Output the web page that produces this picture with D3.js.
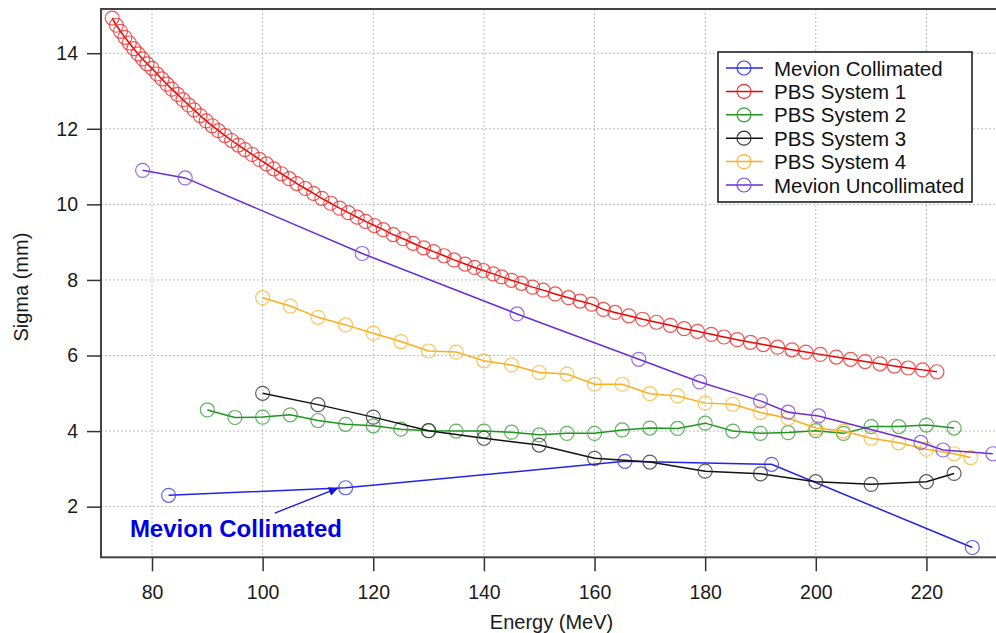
<!DOCTYPE html>
<html>
<head>
<meta charset="utf-8">
<script src="https://cdn.jsdelivr.net/npm/d3@7"></script>
<style>
  body { margin: 0; background: #fff; }
  text { font-family: "Liberation Sans", Arial, sans-serif; }
</style>
</head>
<body>
<script>
// data (Energy in MeV, Sigma in mm)
const colE = [83, 115, 165.5, 192, 228.3];
const colS = [2.3, 2.5, 3.2, 3.12, 0.92];

const pbs1E = [72.8, 73.55, 74.3, 75.1, 75.9, 76.7, 77.5, 78.3, 79.1, 80.0,
  80.9, 81.8, 82.7, 83.6, 84.6, 85.6, 86.6, 87.6, 88.7, 89.8,
  90.9, 92.0, 93.2, 94.4, 95.6, 96.8, 98.1, 99.4, 100.7, 102.0,
  103.4, 104.8, 106.2, 107.7, 109.2, 110.7, 112.3, 113.9, 115.5, 117.1,
  118.6, 120.2, 121.8, 123.6, 125.4, 127.2, 129.1, 130.9, 132.8, 134.6,
  136.6, 138.3, 139.9, 141.7, 143.2, 145.0, 146.8, 148.8, 150.7, 152.9,
  155.3, 157.4, 159.5, 161.6, 163.7, 166.2, 168.7, 171.2, 173.7, 176.2,
  178.6, 181.1, 183.4, 185.8, 188.2, 190.5, 193.1, 195.7, 198.2, 200.8,
  203.7, 206.3, 208.9, 211.6, 214.2, 216.7, 219.3, 221.9];
const pbs1S = [14.93, 14.74, 14.58, 14.42, 14.27, 14.12, 13.98, 13.85, 13.72, 13.6,
  13.45, 13.32, 13.18, 13.05, 12.91, 12.77, 12.63, 12.5, 12.35, 12.21,
  12.08, 11.95, 11.82, 11.69, 11.57, 11.45, 11.32, 11.19, 11.07, 10.94,
  10.81, 10.68, 10.55, 10.42, 10.29, 10.16, 10.03, 9.9, 9.78, 9.66,
  9.55, 9.44, 9.33, 9.2, 9.09, 8.97, 8.85, 8.75, 8.64, 8.53,
  8.42, 8.33, 8.25, 8.16, 8.08, 7.99, 7.91, 7.81, 7.73, 7.63,
  7.53, 7.44, 7.36, 7.22, 7.14, 7.05, 6.96, 6.88, 6.8, 6.71,
  6.64, 6.56, 6.49, 6.42, 6.35, 6.29, 6.22, 6.15, 6.09, 6.03,
  5.96, 5.9, 5.84, 5.78, 5.72, 5.67, 5.62, 5.57];

const pbs2E = [90, 95, 100, 105, 110, 115, 120, 125, 130, 135, 140, 145, 150, 155,
  160, 165, 170, 175, 180, 185, 190, 195, 200, 205, 210, 215, 220, 225];
const pbs2S = [4.56, 4.36, 4.37, 4.43, 4.28, 4.18, 4.14, 4.05, 4.01, 4.0, 4.0, 3.97, 3.9, 3.94,
  3.94, 4.03, 4.08, 4.07, 4.21, 4.0, 3.94, 3.96, 4.01, 3.94, 4.12, 4.12, 4.16, 4.08];

const pbs3E = [100, 110, 120, 130, 140, 150, 160, 170, 180, 190, 200, 210, 220, 225];
const pbs3S = [5.0, 4.7, 4.37, 4.01, 3.81, 3.63, 3.28, 3.18, 2.94, 2.87, 2.66, 2.59, 2.66, 2.88];

const pbs4E = [100, 105, 110, 115, 120, 125, 130, 135, 140, 145, 150, 155, 160, 165,
  170, 175, 180, 185, 190, 195, 200, 205, 210, 215, 220, 225, 228];
const pbs4S = [7.53, 7.31, 7.01, 6.81, 6.59, 6.37, 6.12, 6.09, 5.86, 5.75, 5.55, 5.51, 5.24, 5.24,
  4.99, 4.93, 4.74, 4.71, 4.49, 4.34, 4.08, 4.0, 3.81, 3.69, 3.52, 3.4, 3.3];

const uncolE = [78.3, 86, 118, 146, 168, 179, 190, 195, 200.5, 219, 223, 232];
const uncolS = [10.9, 10.7, 8.7, 7.1, 5.9, 5.3, 4.8, 4.5, 4.4, 3.7, 3.5, 3.4];

const xTicks = [80, 100, 120, 140, 160, 180, 200, 220];
const yTicks = [2, 4, 6, 8, 10, 12, 14];

const series = [
  { name: "Mevion Collimated", e: colE, s: colS, line: "#2323e8", mark: "#3a3aee" },
  { name: "PBS System 1", e: pbs1E, s: pbs1S, line: "#f00000", mark: "#ee2a2a" },
  { name: "PBS System 2", e: pbs2E, s: pbs2S, line: "#1e961e", mark: "#3a9f3a" },
  { name: "PBS System 3", e: pbs3E, s: pbs3S, line: "#111111", mark: "#333333" },
  { name: "PBS System 4", e: pbs4E, s: pbs4S, line: "#fcaf1c", mark: "#fbb734" },
  { name: "Mevion Uncollimated", e: uncolE, s: uncolS, line: "#6a2fd4", mark: "#7d47dc" }
];

//const
const dims = { width: 996, height: 633 };
const plot = { left: 101, right: 1000, top: 9, bottom: 557.3 };

const svg = d3.select("body").append("svg")
    .attr("width", dims.width)
    .attr("height", dims.height);

const x = d3.scaleLinear().domain([70.78, 233.3]).range([plot.left, plot.right]);
const y = d3.scaleLinear().domain([0.66, 15.17]).range([plot.bottom, plot.top]);

// grid
const grid = svg.append("g")
    .attr("stroke", "#bdbdbd")
    .attr("stroke-width", 1)
    .attr("stroke-dasharray", "2,2");
grid.selectAll(".gx").data(xTicks).enter().append("line")
    .attr("x1", d => x(d)).attr("x2", d => x(d))
    .attr("y1", plot.top).attr("y2", plot.bottom);
grid.selectAll(".gy").data(yTicks).enter().append("line")
    .attr("x1", plot.left).attr("x2", plot.right)
    .attr("y1", d => y(d)).attr("y2", d => y(d));

// frame
svg.append("rect")
    .attr("x", plot.left).attr("y", plot.top)
    .attr("width", plot.right - plot.left).attr("height", plot.bottom - plot.top)
    .attr("fill", "none")
    .attr("stroke", "#444")
    .attr("stroke-width", 2);

// axes
const xAxis = svg.append("g")
    .attr("transform", `translate(0,${plot.bottom})`)
    .call(d3.axisBottom(x).tickValues(xTicks).tickSize(14).tickPadding(14).tickSizeOuter(0));
const yAxis = svg.append("g")
    .attr("transform", `translate(${plot.left},0)`)
    .call(d3.axisLeft(y).tickValues(yTicks).tickSize(14).tickPadding(9).tickSizeOuter(0));
[xAxis, yAxis].forEach(a => {
  a.select(".domain").remove();
  a.selectAll(".tick line").attr("stroke", "#333").attr("stroke-width", 1.5);
  a.selectAll(".tick text")
      .attr("fill", "#1a1a1a")
      .style("font-size", "19.5px")
      .style("font-family", "'Liberation Sans', Arial, sans-serif");
});

// axis titles
svg.append("text")
    .attr("x", (plot.left + 996) / 2 + 3)
    .attr("y", 629)
    .attr("text-anchor", "middle")
    .attr("fill", "#1a1a1a")
    .style("font-size", "20px")
    .text("Energy (MeV)");
svg.append("text")
    .attr("transform", `translate(28,${(plot.top + plot.bottom) / 2 + 4}) rotate(-90)`)
    .attr("text-anchor", "middle")
    .attr("fill", "#1a1a1a")
    .style("font-size", "20px")
    .text("Sigma (mm)");

// series
const line = d3.line().x(d => x(d[0])).y(d => y(d[1]));
const body = svg.append("g");
series.forEach(ser => {
  const pts = ser.e.map((e, i) => [e, ser.s[i]]);
  const g = body.append("g");
  g.append("path")
      .datum(pts)
      .attr("d", line)
      .attr("fill", "none")
      .attr("stroke", ser.line)
      .attr("stroke-width", 1.5);
  g.selectAll("circle").data(pts).enter().append("circle")
      .attr("cx", d => x(d[0]))
      .attr("cy", d => y(d[1]))
      .attr("r", 7)
      .attr("fill", "none")
      .attr("stroke", ser.mark)
      .attr("stroke-opacity", 0.8)
      .attr("stroke-width", 1.2);
});

// annotation
svg.append("defs").append("marker")
    .attr("id", "ah")
    .attr("viewBox", "0 0 10 10")
    .attr("refX", 10).attr("refY", 5)
    .attr("markerWidth", 12).attr("markerHeight", 9)
    .attr("markerUnits", "userSpaceOnUse")
    .attr("orient", "auto")
  .append("path")
    .attr("d", "M0,0 L10,5 L0,10 z")
    .attr("fill", "#1414e6");
svg.append("line")
    .attr("x1", x(102.2)).attr("y1", y(1.83))
    .attr("x2", x(113.6)).attr("y2", y(2.49))
    .attr("stroke", "#1414e6")
    .attr("stroke-width", 1.3)
    .attr("marker-end", "url(#ah)");
svg.append("text")
    .attr("x", x(76.0))
    .attr("y", y(1.21))
    .attr("fill", "#0000e6")
    .style("font-size", "24px")
    .style("font-weight", "bold")
    .text("Mevion Collimated");

// legend
const legend = svg.append("g").attr("transform", "translate(718,52)");
legend.append("rect")
    .attr("width", 254).attr("height", 150)
    .attr("fill", "#fff")
    .attr("stroke", "#111")
    .attr("stroke-width", 1.5);
const items = legend.selectAll(".item").data(series).enter().append("g")
    .attr("transform", (d, i) => `translate(0,${16 + i * 23.4})`);
items.append("line")
    .attr("x1", 8).attr("x2", 45)
    .attr("stroke", d => d.line)
    .attr("stroke-width", 1.5);
items.append("circle")
    .attr("cx", 26).attr("r", 7)
    .attr("fill", "none")
    .attr("stroke", d => d.mark)
    .attr("stroke-width", 1.2);
items.append("text")
    .attr("x", 56).attr("y", 7.5)
    .attr("fill", "#111")
    .style("font-size", "20.5px")
    .text(d => d.name);
</script>
</body>
</html>
